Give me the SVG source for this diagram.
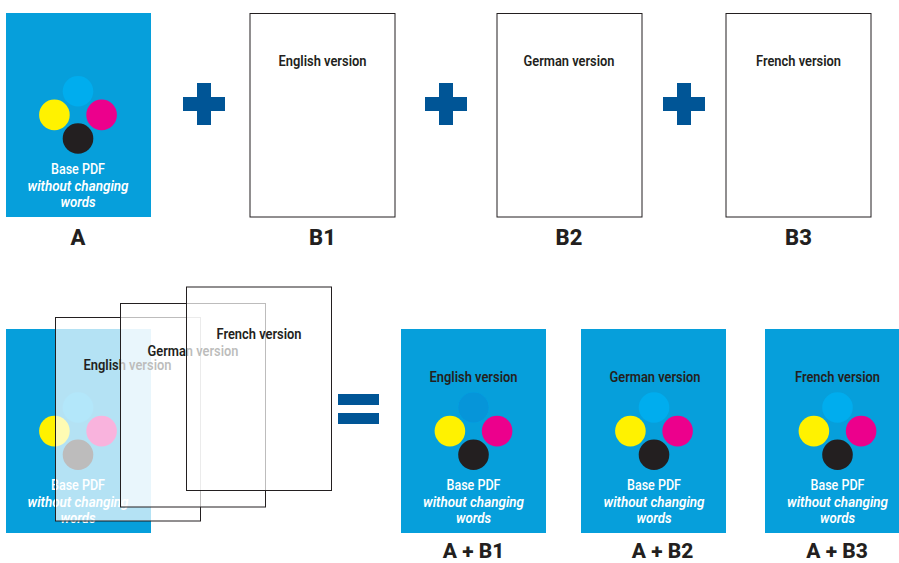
<svg xmlns="http://www.w3.org/2000/svg" xmlns:xlink="http://www.w3.org/1999/xlink" width="899" height="563" viewBox="0 0 899 563">
<style>
text{font-family:"Roboto","Liberation Sans",sans-serif;text-anchor:middle}
.bg{fill:#069fdb}
.page{fill:#fff;fill-opacity:.7;stroke:#231f20;stroke-width:1}
.top{fill:#fff;stroke:#231f20;stroke-width:1}
.ver{font-size:14px;font-weight:600;fill:#231f20}
.base{font-size:14px;font-weight:500;fill:#fff}
.it{font-size:14px;font-weight:600;font-style:italic;fill:#fff}
.lab{font-size:22px;font-weight:800;fill:#231f20}
.lab2{font-size:21px;font-weight:800;fill:#231f20}
.op{fill:#005596}
.c{fill:#00adee}.m{fill:#ec008c}.y{fill:#fff200}.k{fill:#231f20}
</style>
<defs>
<g id="dots"><circle class="c" cx="0" cy="0" r="15.3"/><circle class="y" cx="-23.6" cy="23.6" r="15.3"/><circle class="m" cx="23.6" cy="23.6" r="15.3"/><circle class="k" cx="0" cy="47.2" r="15.3"/></g>
<g id="basetext"><text class="base" x="0" y="0" textLength="54" lengthAdjust="spacingAndGlyphs">Base PDF</text><text class="it" x="0" y="16.5" textLength="101" lengthAdjust="spacingAndGlyphs">without changing</text><text class="it" x="0" y="33" textLength="35" lengthAdjust="spacingAndGlyphs">words</text></g>
<path id="plus" class="op" d="M14 0h14v14h14v14h-14v14h-14v-14h-14v-14h14z"/>
</defs>
<g id="node-a"><rect class="bg" x="6" y="13" width="145" height="204"/><use xlink:href="#dots" href="#dots" x="78" y="91.3"/><use xlink:href="#basetext" href="#basetext" x="78" y="174"/><text class="lab" x="78" y="245">A</text></g>
<use id="plus-1" xlink:href="#plus" href="#plus" x="183" y="83"/>
<g id="node-b1"><rect class="top" x="250" y="13.5" width="145" height="203.5"/><text class="ver" x="322.5" y="66" textLength="88" lengthAdjust="spacingAndGlyphs">English version</text><text class="lab" x="322.5" y="245">B1</text></g>
<use id="plus-2" xlink:href="#plus" href="#plus" x="425" y="83"/>
<g id="node-b2"><rect class="top" x="497" y="13.5" width="145" height="203.5"/><text class="ver" x="569" y="66" textLength="91" lengthAdjust="spacingAndGlyphs">German version</text><text class="lab" x="569" y="245">B2</text></g>
<use id="plus-3" xlink:href="#plus" href="#plus" x="663" y="83"/>
<g id="node-b3"><rect class="top" x="726" y="13.5" width="145" height="203.5"/><text class="ver" x="798.5" y="66" textLength="85" lengthAdjust="spacingAndGlyphs">French version</text><text class="lab" x="798.5" y="245">B3</text></g>
<g id="node-stack">
<rect class="bg" x="6" y="329" width="145" height="204"/><use xlink:href="#dots" href="#dots" x="78" y="407.5"/><use xlink:href="#basetext" href="#basetext" x="78" y="490"/>
<rect class="page" x="55.5" y="317.5" width="145" height="203.5"/><text class="ver" x="127.5" y="370" textLength="88" lengthAdjust="spacingAndGlyphs">English version</text>
<rect class="page" x="120.5" y="303.5" width="145" height="203.5"/><text class="ver" x="193" y="356" textLength="91" lengthAdjust="spacingAndGlyphs">German version</text>
<rect class="page" x="186.5" y="287" width="145" height="203.5"/><text class="ver" x="259" y="339" textLength="85" lengthAdjust="spacingAndGlyphs">French version</text>
</g>
<g id="equals" class="op"><rect x="338" y="394" width="41" height="11"/><rect x="338" y="413" width="41" height="11"/></g>
<g id="node-ab1"><rect class="bg" x="401" y="329" width="145" height="204"/><text class="ver" x="473.5" y="382" textLength="88" lengthAdjust="spacingAndGlyphs">English version</text><use xlink:href="#dots" href="#dots" x="473.5" y="407.5"/><circle cx="473.5" cy="407.5" r="15.3" fill="#0695d9"/><use xlink:href="#basetext" href="#basetext" x="473.5" y="490"/><text class="lab2" x="473.5" y="558">A + B1</text></g>
<g id="node-ab2"><rect class="bg" x="581" y="329" width="145" height="204"/><text class="ver" x="655" y="382" textLength="91" lengthAdjust="spacingAndGlyphs">German version</text><use xlink:href="#dots" href="#dots" x="654" y="407.5"/><use xlink:href="#basetext" href="#basetext" x="654" y="490"/><text class="lab2" x="662.5" y="558">A + B2</text></g>
<g id="node-ab3"><rect class="bg" x="765" y="329" width="134" height="204"/><text class="ver" x="837.5" y="382" textLength="85" lengthAdjust="spacingAndGlyphs">French version</text><use xlink:href="#dots" href="#dots" x="837.5" y="407.5"/><use xlink:href="#basetext" href="#basetext" x="837.5" y="490"/><text class="lab2" x="837" y="558">A + B3</text></g>
</svg>
